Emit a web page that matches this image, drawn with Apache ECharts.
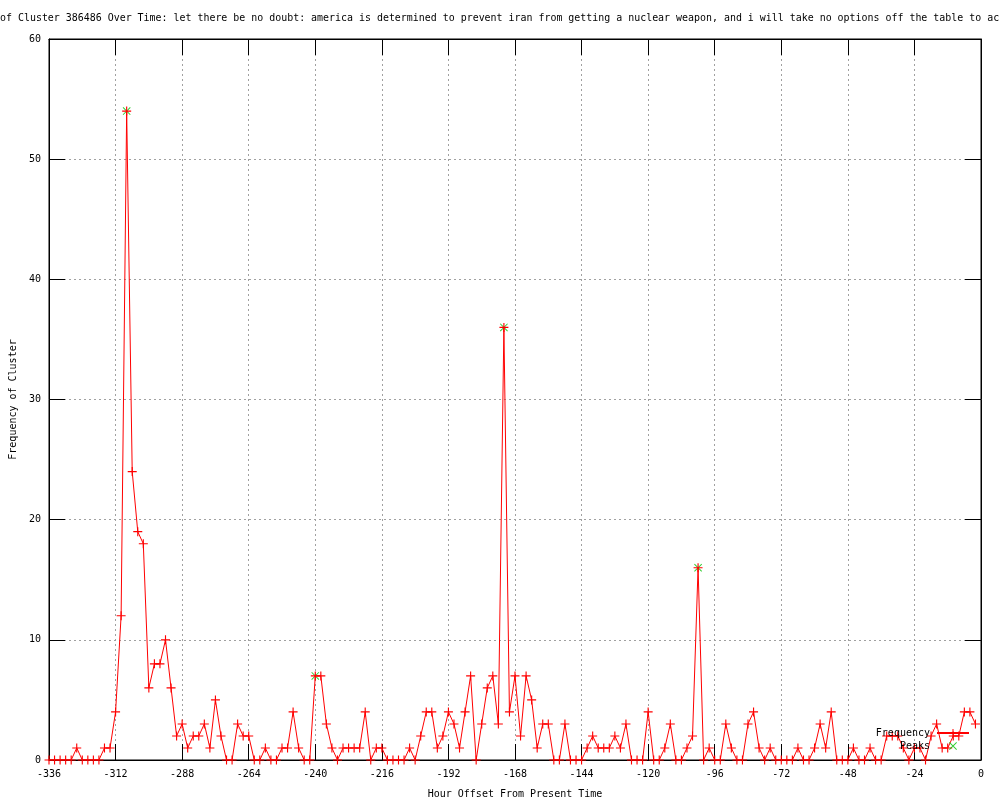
<!DOCTYPE html>
<html>
<head>
<meta charset="utf-8">
<script src="https://cdn.jsdelivr.net/npm/echarts@6/dist/echarts.min.js"></script>
<style>
  html, body { margin: 0; padding: 0; background: #fff; }
  #chart { width: 1000px; height: 800px; }
</style>
</head>
<body>
<div id="chart"></div>
<script>
// hourly samples every 2 hours, from -336 up to -2
const startHour = -336
const stepHours = 2
const frequency = [
  0, 0, 0, 0, 0, 1, 0, 0, 0, 0,
  1, 1, 4, 12, 54, 24, 19, 18, 6, 8,
  8, 10, 6, 2, 3, 1, 2, 2, 3, 1,
  5, 2, 0, 0, 3, 2, 2, 0, 0, 1,
  0, 0, 1, 1, 4, 1, 0, 0, 7, 7,
  3, 1, 0, 1, 1, 1, 1, 4, 0, 1,
  1, 0, 0, 0, 0, 1, 0, 2, 4, 4,
  1, 2, 4, 3, 1, 4, 7, 0, 3, 6,
  7, 3, 36, 4, 7, 2, 7, 5, 1, 3,
  3, 0, 0, 3, 0, 0, 0, 1, 2, 1,
  1, 1, 2, 1, 3, 0, 0, 0, 4, 0,
  0, 1, 3, 0, 0, 1, 2, 16, 0, 1,
  0, 0, 3, 1, 0, 0, 3, 4, 1, 0,
  1, 0, 0, 0, 0, 1, 0, 0, 1, 3,
  1, 4, 0, 0, 0, 1, 0, 0, 1, 0,
  0, 2, 2, 2, 1, 0, 1, 1, 0, 2,
  3, 1, 1, 2, 2, 4, 4, 3
]
const peakHours = [-308, -240, -172, -102]
const peakValues = [54, 7, 36, 16]
const xTicks = [-336, -312, -288, -264, -240, -216, -192, -168, -144, -120, -96, -72, -48, -24, 0]
const yTicks = [0, 10, 20, 30, 40, 50, 60]

const titleText = 'of Cluster 386486 Over Time: let there be no doubt: america is determined to prevent iran from getting a nuclear weapon, and i will take no options off the table to ac'

const freqData = frequency.map((v, i) => [startHour + i * stepHours, v])
const peakData = peakHours.map((h, i) => [h, peakValues[i]])

const FONT = 'DejaVu Sans Mono'
const plus = 'path://M0,3.5H8V4.5H0Z M3.5,0H4.5V8H3.5Z'
const cross = 'path://M0,0.7L0.7,0L8,7.3L7.3,8Z M7.3,0L8,0.7L0.7,8L0,7.3Z'
// same cross, padded out to the 32x10 legend sample box
const crossKey = 'path://M0,0L0.01,0L0,0.01Z M32,10L31.99,10L32,9.99Z M12,1.7L12.7,1L20,8.3L19.3,9Z M19.3,1L20,1.7L12.7,9L12,8.3Z'

const chart = echarts.init(document.getElementById('chart'), null, { renderer: 'canvas' })

const gridLine = { show: true, lineStyle: { color: '#a0a0a0', type: [2, 3], width: 1 } }
const tickStyle = { show: true, inside: true, length: 16, lineStyle: { color: '#000' } }
const axisLine = { show: true, onZero: false, lineStyle: { color: '#000' } }

chart.setOption({
  animation: false,
  backgroundColor: '#fff',
  title: {
    text: titleText,
    left: 0,
    top: 13,
    padding: 0,
    textStyle: { fontFamily: FONT, fontSize: 9.95, fontWeight: 'normal', color: '#000' }
  },
  legend: {
    orient: 'vertical',
    align: 'right',
    right: 30,
    top: 728,
    padding: 0,
    itemWidth: 32,
    itemHeight: 10,
    itemGap: 3,
    textStyle: { fontFamily: FONT, fontSize: 10, color: '#000', padding: [0, 2, 0, 0] },
    data: [
      { name: 'Frequency' },
      { name: 'Peaks', icon: crossKey }
    ]
  },
  grid: {
    left: 49,
    right: 19,
    top: 39,
    bottom: 40,
    outerBoundsMode: 'none',
    show: true,
    borderColor: '#000',
    borderWidth: 1,
    backgroundColor: 'transparent'
  },
  xAxis: [
    {
      type: 'value',
      min: xTicks[0],
      max: xTicks[xTicks.length - 1],
      interval: 24,
      name: 'Hour Offset From Present Time',
      nameLocation: 'middle',
      nameGap: 29,
      nameTextStyle: { fontFamily: FONT, fontSize: 10, color: '#000' },
      axisLine: axisLine,
      axisTick: tickStyle,
      axisLabel: { fontFamily: FONT, fontSize: 10, color: '#000', margin: 9 },
      splitLine: gridLine
    },
    {
      type: 'value',
      position: 'top',
      min: xTicks[0],
      max: xTicks[xTicks.length - 1],
      interval: 24,
      axisLine: axisLine,
      axisTick: tickStyle,
      axisLabel: { show: false },
      splitLine: { show: false }
    }
  ],
  yAxis: [
    {
      type: 'value',
      min: yTicks[0],
      max: yTicks[yTicks.length - 1],
      interval: 10,
      name: 'Frequency of Cluster',
      nameLocation: 'middle',
      nameRotate: 90,
      nameGap: 31,
      nameTextStyle: { fontFamily: FONT, fontSize: 10, color: '#000' },
      axisLine: axisLine,
      axisTick: tickStyle,
      axisLabel: { fontFamily: FONT, fontSize: 10, color: '#000', margin: 8 },
      splitLine: gridLine
    },
    {
      type: 'value',
      position: 'right',
      min: yTicks[0],
      max: yTicks[yTicks.length - 1],
      interval: 10,
      axisLine: axisLine,
      axisTick: tickStyle,
      axisLabel: { show: false },
      splitLine: { show: false }
    }
  ],
  series: [
    {
      name: 'Frequency',
      type: 'line',
      data: freqData,
      symbol: plus,
      symbolSize: 9,
      showAllSymbol: true,
      lineStyle: { color: '#ff0000', width: 1 },
      itemStyle: { color: '#ff0000' },
      z: 3
    },
    {
      name: 'Peaks',
      type: 'scatter',
      data: peakData,
      symbol: cross,
      symbolSize: 8,
      itemStyle: { color: '#00c000' },
      z: 2
    }
  ]
})
</script>
</body>
</html>
